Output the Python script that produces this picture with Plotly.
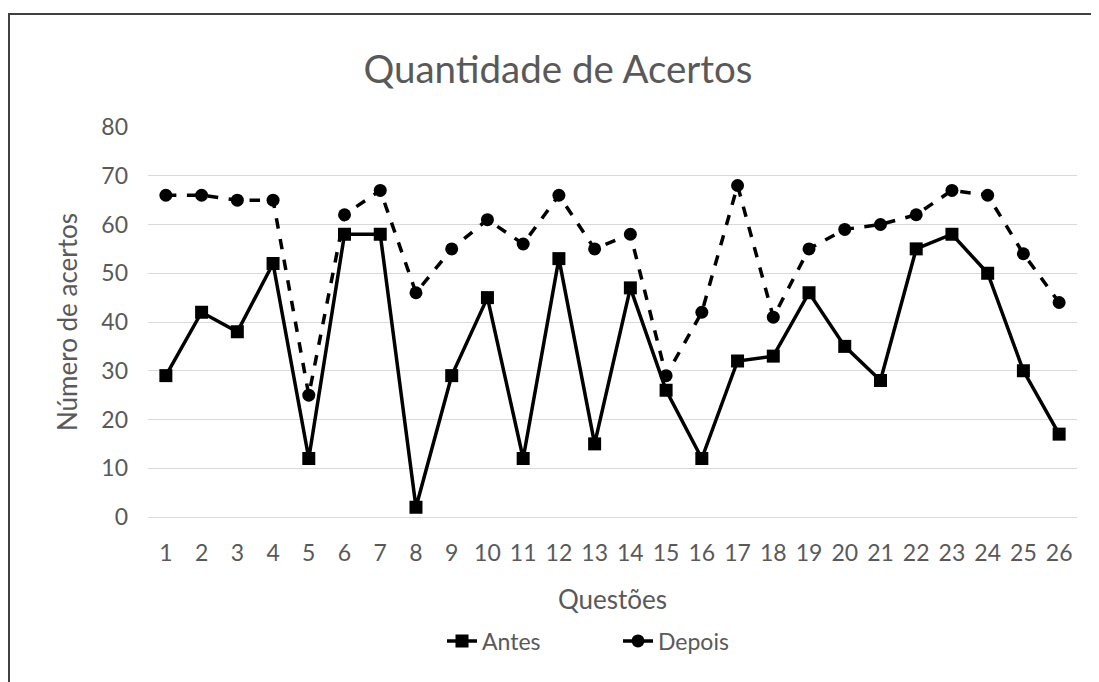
import plotly.graph_objects as go

questoes = [str(i) for i in range(1, 27)]
antes = [29, 42, 38, 52, 12, 58, 58, 2, 29, 45, 12, 53, 15, 47, 26, 12, 32, 33, 46, 35, 28, 55, 58, 50, 30, 17]
depois = [66, 66, 65, 65, 25, 62, 67, 46, 55, 61, 56, 66, 55, 58, 29, 42, 68, 41, 55, 59, 60, 62, 67, 66, 54, 44]
y_ticks = [0, 10, 20, 30, 40, 50, 60, 70, 80]

FONT = "Lato, Open Sans, sans-serif"
GREY = "#595959"
OFF = 8  # page body margin

fig = go.Figure()
fig.add_trace(go.Scatter(x=questoes, y=antes, name="Antes", mode="lines+markers",
                         line=dict(color="black", width=3.5),
                         marker=dict(symbol="square", size=13, color="black")))
fig.add_trace(go.Scatter(x=questoes, y=depois, name="Depois", mode="lines+markers",
                         line=dict(color="black", width=3.5, dash="dash"),
                         marker=dict(symbol="circle", size=13, color="black")))

W, H = 1099 - OFF, 682 - OFF
L, T = 148 - OFF, 127 - OFF
R = W - (1077 - OFF)
B = H - (517 - OFF)
pw, ph = W - L - R, H - T - B

def px(x):
    return (x - OFF - L) / pw

def py(y):
    return (H - B - (y - OFF)) / ph

fig.update_layout(
    width=W, height=H,
    margin=dict(l=L, r=R, t=T, b=B),
    paper_bgcolor="white", plot_bgcolor="white",
    font=dict(family=FONT, color=GREY, size=22),
    title=dict(text="Quantidade de Acertos", x=px(558), xref="paper", xanchor="center",
               y=1 - (70 - OFF) / H, yanchor="middle", font=dict(size=38.5, color=GREY, family=FONT)),
    xaxis=dict(title=dict(text="Questões", font=dict(size=26, color=GREY), standoff=26),
               range=[-0.5, 25.5], showgrid=False, showline=True, linecolor="#d9d9d9", linewidth=1,
               tickfont=dict(size=23, color=GREY), ticks="", ticklabelstandoff=15),
    yaxis=dict(title=dict(text="Número de acertos", font=dict(size=26, color=GREY), standoff=16),
               range=[0, 80], tickvals=y_ticks, showgrid=True, gridcolor="#d9d9d9",
               gridwidth=1, zeroline=False, showline=False,
               tickfont=dict(size=23, color=GREY), ticks="", ticklabelstandoff=19),
    legend=dict(orientation="h", x=px(618), xanchor="center", y=py(641), yanchor="middle",
                font=dict(size=23, color=GREY), entrywidth=131, entrywidthmode="pixels"),
    showlegend=True,
    shapes=[dict(type="rect", xref="paper", yref="paper",
                 x0=px(9), x1=px(1120), y0=py(14), y1=py(700),
                 line=dict(color="#404040", width=2), fillcolor="rgba(0,0,0,0)", layer="below")],
)

fig.write_html("out.html")
